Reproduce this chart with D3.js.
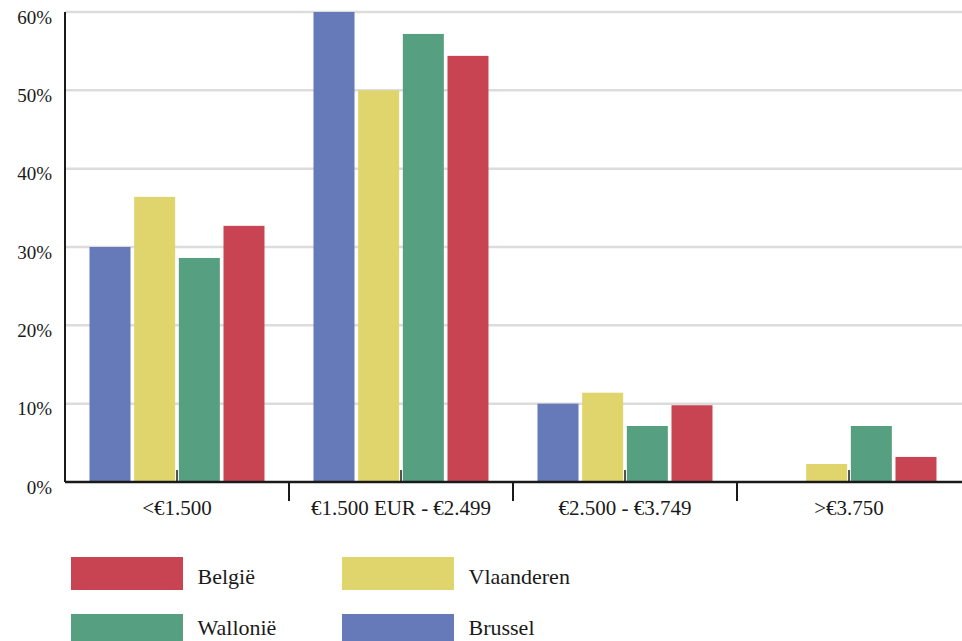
<!DOCTYPE html>
<html>
<head>
<meta charset="utf-8">
<script src="https://cdn.jsdelivr.net/npm/d3@7"></script>
<style>
  html, body { margin: 0; padding: 0; background: #fff; }
  svg { display: block; }
</style>
</head>
<body>
<svg id="chart" width="962" height="641"></svg>
<script>
// ---- data ----
const categories = ["<€1.500", "€1.500 EUR - €2.499", "€2.500 - €3.749", ">€3.750"];
const seriesNames = ["Brussel", "Vlaanderen", "Wallonië", "België"];
const brussel    = [30.0, 60.0, 10.0, 0.0];
const vlaanderen = [36.4, 50.0, 11.4, 2.3];
const wallonie   = [28.6, 57.2, 7.15, 7.15];
const belgie     = [32.7, 54.4, 9.8, 3.2];
const yTicks = [0, 10, 20, 30, 40, 50, 60];
const legendOrder = ["België", "Vlaanderen", "Wallonië", "Brussel"];

const seriesValues = { "Brussel": brussel, "Vlaanderen": vlaanderen, "Wallonië": wallonie, "België": belgie };
const colors = { "Brussel": "#6679b8", "Vlaanderen": "#e0d46c", "Wallonië": "#569f80", "België": "#c94452" };

// ---- layout ----
const FONT = "'Liberation Serif', 'DejaVu Serif', 'Times New Roman', serif";
const svg = d3.select("#chart").attr("font-family", FONT);
const mLeft = 65, mRight = 961, mTop = 12, mBottom = 482;

const x0 = d3.scaleBand().domain(categories).range([mLeft, mRight])
  .paddingInner(49 / 224).paddingOuter(24.5 / 224);
const x1 = d3.scaleBand().domain(seriesNames).range([0, x0.bandwidth()])
  .paddingInner(0.082).paddingOuter(0);
const y = d3.scaleLinear().domain([0, 60]).range([mBottom, mTop]);

// gridlines
svg.append("g").selectAll("line").data(yTicks.filter(d => d > 0)).join("line")
  .attr("x1", mLeft).attr("x2", 962)
  .attr("y1", d => y(d)).attr("y2", d => y(d))
  .attr("stroke", "#dcdcdc").attr("stroke-width", 2.5);

// small upward ticks at group centres
svg.append("g").selectAll("line").data(categories).join("line")
  .attr("x1", d => x0(d) + x0.bandwidth() / 2).attr("x2", d => x0(d) + x0.bandwidth() / 2)
  .attr("y1", mBottom).attr("y2", mBottom - 12)
  .attr("stroke", "#1a1a1a").attr("stroke-width", 1.5);

// bars
const groups = svg.append("g").selectAll("g").data(categories).join("g")
  .attr("transform", d => `translate(${x0(d)},0)`);
groups.selectAll("rect")
  .data((c, i) => seriesNames.map(s => ({ s, v: seriesValues[s][i] })))
  .join("rect")
  .attr("x", d => x1(d.s))
  .attr("width", x1.bandwidth())
  .attr("y", d => y(d.v))
  .attr("height", d => y(0) - y(d.v))
  .attr("fill", d => colors[d.s]);

// y axis
svg.append("line").attr("x1", mLeft).attr("x2", mLeft).attr("y1", mTop).attr("y2", mBottom)
  .attr("stroke", "#1a1a1a").attr("stroke-width", 2);
svg.append("g").selectAll("text").data(yTicks).join("text")
  .attr("x", 52).attr("y", d => y(d) + 11.7)
  .attr("text-anchor", "end").attr("font-size", 19)
  .attr("font-family", FONT).attr("fill", "#1a1a1a")
  .text(d => d + "%");

// x axis
svg.append("line").attr("x1", mLeft).attr("x2", 962).attr("y1", mBottom).attr("y2", mBottom)
  .attr("stroke", "#1a1a1a").attr("stroke-width", 2.5);
// boundary ticks between groups
const boundaries = categories.slice(1).map(c => x0(c) - (x0.step() - x0.bandwidth()) / 2);
svg.append("g").selectAll("line").data(boundaries).join("line")
  .attr("x1", d => d).attr("x2", d => d)
  .attr("y1", mBottom).attr("y2", mBottom + 19)
  .attr("stroke", "#1a1a1a").attr("stroke-width", 2);
svg.append("g").selectAll("text").data(categories).join("text")
  .attr("x", d => x0(d) + x0.bandwidth() / 2).attr("y", 514.5)
  .attr("text-anchor", "middle").attr("font-size", 21)
  .attr("font-family", FONT).attr("fill", "#1a1a1a")
  .text(d => d);

// legend
const leg = svg.append("g").selectAll("g").data(legendOrder).join("g")
  .attr("transform", (d, i) => `translate(${71 + (i % 2) * 271},${557 + Math.floor(i / 2) * 57})`);
leg.append("rect").attr("width", 112).attr("height", 33).attr("fill", d => colors[d]);
leg.append("text").attr("x", 126.5).attr("y", (d, i) => Math.floor(i / 2) === 0 ? 27 : 21)
  .attr("font-size", 22).attr("font-family", FONT).attr("fill", "#1a1a1a")
  .text(d => d);
</script>
</body>
</html>
